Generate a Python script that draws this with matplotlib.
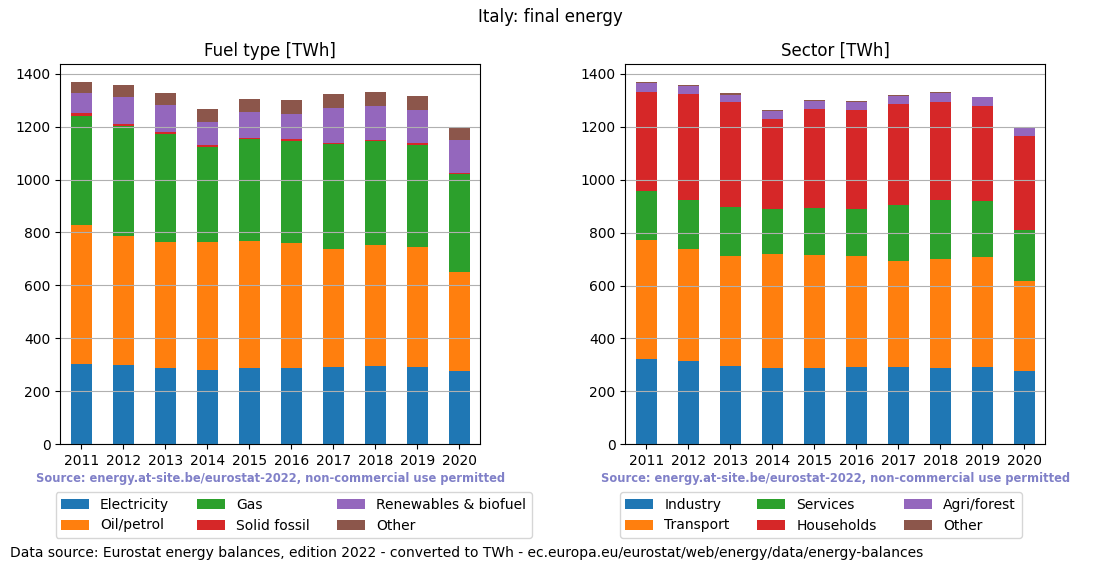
import matplotlib

matplotlib.use("Agg")

import matplotlib.pyplot as plt
import numpy as np

years = ["2011", "2012", "2013", "2014", "2015", "2016", "2017", "2018", "2019", "2020"]

# final energy by fuel type, TWh
fuel_labels = ["Electricity", "Oil/petrol", "Gas", "Solid fossil", "Renewables & biofuel", "Other"]
electricity = [303, 299, 288, 281, 288, 288, 292, 296, 292, 277]
oil = [525, 487, 475, 483, 479, 472, 445, 457, 453, 374]
gas = [411, 415, 409, 358, 385, 385, 398, 392, 385, 370]
solid = [11, 8, 8, 8, 5, 8, 4, 5, 8, 4]
renewables = [76, 102, 101, 87, 97, 94, 131, 127, 125, 125]
fuel_other = [41, 45, 45, 49, 49, 53, 53, 53, 53, 49]

# final energy by sector, TWh
sector_labels = ["Industry", "Transport", "Services", "Households", "Agri/forest", "Other"]
industry = [322, 315, 296, 288, 288, 292, 292, 288, 292, 277]
transport = [449, 423, 415, 430, 427, 419, 400, 411, 415, 340]
services = [185, 185, 185, 170, 177, 177, 211, 223, 211, 192]
households = [374, 400, 396, 343, 377, 374, 385, 370, 362, 355]
agri = [34, 31, 30, 30, 30, 30, 30, 34, 34, 34]
sector_other = [4, 2.5, 4, 4, 4, 7.5, 4, 4, 0.5, 0]

colors = ["#1f77b4", "#ff7f0e", "#2ca02c", "#d62728", "#9467bd", "#8c564b"]

fig = plt.figure(figsize=(11, 5.72), dpi=100)
ax1 = fig.add_axes([0.0548, 0.2233, 0.3818, 0.6643])
ax2 = fig.add_axes([0.5685, 0.2233, 0.3818, 0.6643])


def stacked(ax, series, labels, title):
    x = np.arange(len(years))
    bottom = np.zeros(len(years))
    for vals, lab, c in zip(series, labels, colors):
        ax.bar(x, vals, 0.5, bottom=bottom, color=c, label=lab)
        bottom += np.array(vals, dtype=float)
    ax.set_xlim(-0.5, len(years) - 0.5)
    ax.set_xticks(x)
    ax.set_xticklabels(years)
    ax.set_ylim(0, bottom.max() * 1.05)
    ax.yaxis.grid(True, color="#b0b0b0")
    ax.set_title(title, fontsize=12)
    ax.text(0.5, -0.09, "Source: energy.at-site.be/eurostat-2022, non-commercial use permitted",
            transform=ax.transAxes, ha="center", va="center", fontsize=8.3,
            fontweight="bold", color="#8080c8")


stacked(ax1, [electricity, oil, gas, solid, renewables, fuel_other], fuel_labels, "Fuel type [TWh]")
stacked(ax2, [industry, transport, services, households, agri, sector_other], sector_labels, "Sector [TWh]")

h, l = ax1.get_legend_handles_labels()
fig.legend(h, l, loc="upper left", bbox_to_anchor=(0.0505, 1 - 492 / 572), ncol=3,
           fontsize=10, borderaxespad=0)
h, l = ax2.get_legend_handles_labels()
fig.legend(h, l, loc="upper left", bbox_to_anchor=(0.5635, 1 - 492 / 572), ncol=3,
           fontsize=10, borderaxespad=0)

fig.suptitle("Italy: final energy", y=1 - 17 / 572, va="center", fontsize=12)
fig.text(10 / 1100, 1 - 553 / 572,
         "Data source: Eurostat energy balances, edition 2022 - converted to TWh - ec.europa.eu/eurostat/web/energy/data/energy-balances",
         ha="left", va="center", fontsize=10)

fig.savefig("out.png", dpi=100)
